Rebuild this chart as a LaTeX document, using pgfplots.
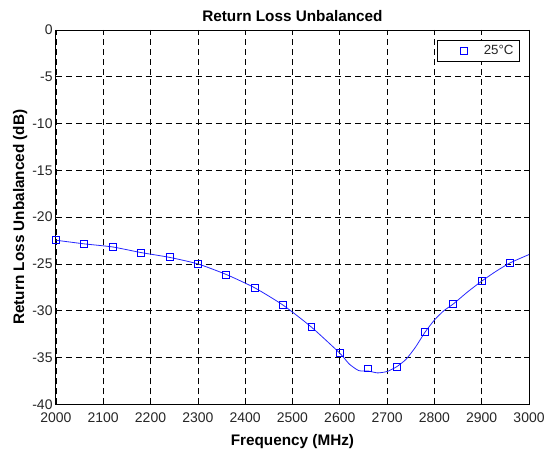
\documentclass[border=0pt]{standalone}
\usepackage{pgfplots}
\pgfplotsset{compat=1.18}
\usepackage{fontspec}
\setmainfont{Liberation Sans}
\usetikzlibrary{calc}

\begin{document}
\begin{tikzpicture}
\definecolor{mblue}{RGB}{0,0,255}
\definecolor{tickgray}{RGB}{38,38,38}
\begin{axis}[
    scale only axis,
    width=355.5pt, height=281.25pt,
    xmin=2000, xmax=3000, ymin=-40, ymax=0,
    xtick={2000,2100,...,3000},
    ytick={-40,-35,...,0},
    /pgf/number format/assume math mode=true,
    /pgf/number format/.cd, set thousands separator={}, /pgfplots/.cd,
    tick label style={font=\fontsize{10.5}{12}\selectfont, text=tickgray},
    xticklabel style={yshift=-3pt},
    yticklabel style={xshift=1pt},
    tick align=inside,
    major tick length=4pt,
    tick style={black, line width=0.5pt},
    axis line style={black, line width=0.6pt},
    xmajorgrids, ymajorgrids,
    grid style={black, line width=0.5pt, dash pattern=on 4.5pt off 3pt},
    title={\bfseries Return Loss Unbalanced},
    title style={font=\fontsize{11.5}{13}\selectfont, yshift=-3pt},
    xlabel={\bfseries Frequency (MHz)},
    ylabel={\bfseries Return Loss Unbalanced (dB)},
    label style={font=\fontsize{11.5}{13}\selectfont},
    xlabel style={yshift=-2pt},
    ylabel style={yshift=-3pt},
    legend style={at={(0.979,0.973)}, anchor=north east, draw=black,
      font=\fontsize{10}{12}\selectfont, inner xsep=2pt, inner ysep=1.5pt,
      legend cell align=left},
    legend image code/.code={\path[draw=none] (0pt,0pt) rectangle (31pt,0pt);
      \draw[#1, draw=none] (18pt,0pt) node {};
      \path[#1] plot[only marks] coordinates {(18pt,0pt)};},
  ]
\addplot[mblue!85, line width=0.6pt, smooth, tension=0.35, forget plot] table {
x y
2000 -22.47
2060 -22.86
2120 -23.19
2180 -23.79
2240 -24.30
2300 -25.00
2360 -26.13
2420 -27.55
2480 -29.40
2540 -31.75
2600 -34.54
2620 -35.70
2640 -36.40
2660 -36.45
2680 -36.65
2700 -36.50
2720 -36.00
2740 -35.20
2760 -33.90
2780 -32.31
2800 -31.00
2820 -30.00
2840 -29.28
2870 -28.00
2900 -26.84
2930 -25.80
2960 -24.89
3000 -24.00
};
\addplot[mblue, only marks, mark=square, mark size=2.6pt, mark options={line width=0.6pt}] table {
x y
2000 -22.47
2060 -22.86
2120 -23.19
2180 -23.79
2240 -24.30
2300 -25.02
2360 -26.13
2420 -27.55
2480 -29.38
2540 -31.75
2600 -34.54
2660 -36.17
2720 -36.03
2780 -32.31
2840 -29.28
2900 -26.84
2960 -24.89
};
\addlegendentry{\textcolor{tickgray}{25°C}}
\end{axis}
\path[use as bounding box] ($(current axis.south west)+(-42pt,-37.5pt)$) rectangle ($(current axis.north east)+(14.25pt,22.5pt)$);
\end{tikzpicture}
\end{document}
